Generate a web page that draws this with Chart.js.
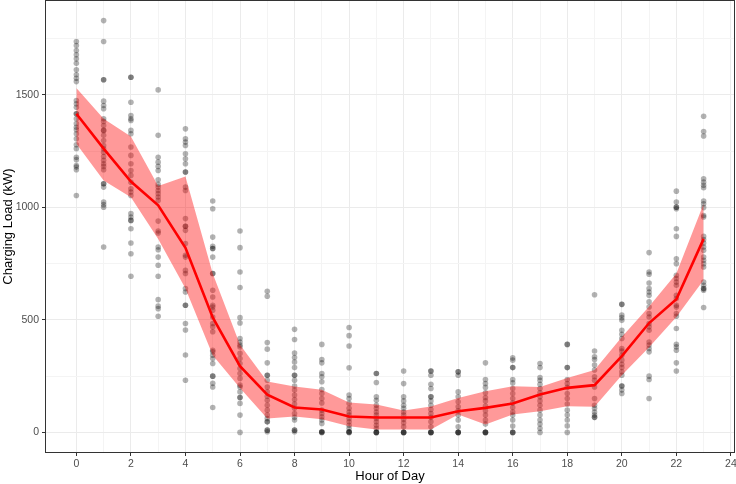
<!DOCTYPE html>
<html>
<head>
<meta charset="utf-8">
<script src="https://cdn.jsdelivr.net/npm/chart.js@4.4.1/dist/chart.umd.min.js"></script>
<style>
  html, body { margin: 0; padding: 0; background: #ffffff; }
  #wrap { width: 736px; height: 484px; }
</style>
</head>
<body>
<div id="wrap"><canvas id="c" width="736" height="484"></canvas></div>
<script>
// ---- data ----
const hours = [0,1,2,3,4,5,6,7,8,9,10,11,12,13,14,15,16,17,18,19,20,21,22,23];

const load_h00 = [1737,1719,1697,1678,1660,1640,1611,1589,1574,1559,1475,1460,1445,1416,1416,1394,1372,1356,1345,1327,1305,1278,1261,1223,1212,1186,1179,1167,1053];
const load_h01 = [1830,1737,1567,1567,1472,1453,1438,1394,1382,1364,1342,1342,1320,1297,1275,1260,1245,1226,1209,1194,1182,1167,1105,1105,1090,1024,1012,1001,824];
const load_h02 = [1578,1578,1467,1408,1394,1386,1342,1327,1268,1231,1194,1164,1142,1112,1083,1068,1053,972,957,942,942,905,842,794,694];
const load_h03 = [1522,1320,1223,1201,1182,1164,1123,1102,1090,1075,1061,1046,1031,939,895,886,824,812,779,743,694,590,561,550,516];
const load_h04 = [1349,1305,1290,1275,1238,1216,1194,1157,1157,1090,1075,950,916,916,898,839,787,779,720,706,639,624,565,565,484,455,344,232];
const load_h05 = [1028,994,868,827,817,817,779,706,706,632,602,565,557,543,513,484,469,447,365,358,343,328,306,250,250,218,202,111];
const load_h06 = [895,821,713,644,510,486,417,402,388,380,351,328,306,284,262,240,210,202,180,155,155,129,77,0];
const load_h07 = [627,605,399,370,309,254,254,232,202,180,161,143,121,99,77,62,47,47,10,10,3];
const load_h08 = [458,413,353,333,313,288,254,254,232,206,188,166,146,126,107,84,67,55,10,10,3];
const load_h09 = [391,324,309,262,247,225,191,173,151,131,99,84,69,55,40,3,3,0,0];
const load_h10 = [466,430,384,287,166,151,129,107,91,77,62,47,32,18,3,3,0,0];
const load_h11 = [262,262,222,158,143,121,107,91,77,62,47,32,18,0,0,0,0];
const load_h12 = [273,217,158,140,121,107,91,77,58,43,25,0,0,0,0];
const load_h13 = [273,273,254,214,195,158,158,140,121,102,84,67,47,25,0,0,0,0];
const load_h14 = [269,269,254,180,158,136,114,96,77,55,25,0,0,0,0];
const load_h15 = [309,235,217,200,176,155,140,117,96,77,55,37,0,0,0,0];
const load_h16 = [331,321,288,288,235,220,195,173,151,131,111,91,77,55,28,0,0,0];
const load_h17 = [306,288,244,232,214,195,176,158,140,121,99,77,55,37,18,0];
const load_h18 = [391,391,288,288,235,217,200,173,151,126,99,77,55,29,0];
const load_h19 = [612,362,336,324,299,277,247,232,202,151,121,107,91,77,67,67];
const load_h20 = [569,569,521,510,498,454,436,417,373,362,343,321,303,288,269,254,206,206,188,173];
const load_h21 = [799,713,703,664,639,624,609,580,557,528,513,484,469,454,402,388,373,358,250,235,151];
const load_h22 = [1072,1024,1001,1001,994,905,871,772,750,698,684,668,654,609,595,565,557,528,516,462,392,380,365,309,273];
const load_h23 = [1405,1337,1317,1127,1112,1098,1087,1028,1016,999,964,957,871,857,842,824,809,779,765,750,735,668,654,639,639,632,555];

const loadByHour = [load_h00,load_h01,load_h02,load_h03,load_h04,load_h05,load_h06,load_h07,
  load_h08,load_h09,load_h10,load_h11,load_h12,load_h13,load_h14,load_h15,load_h16,load_h17,
  load_h18,load_h19,load_h20,load_h21,load_h22,load_h23];

const meanLoad  = [1416,1261,1115,1009,820,511,294,168,111,102,71,66,66,66,94,109,128,168,198,210,339,486,592,860];
const lowerBand = [1283,1119,1045,860,640,343,197,62,71,58,27,13,13,13,80,35,80,94,116,114,254,378,513,677];
const upperBand = [1531,1394,1315,1095,1137,706,389,226,204,190,133,124,97,115,153,183,205,202,242,277,424,560,706,1016];

const xTickValues = [0,1,2,3,4,5,6,7,8,9,10,11,12,13,14,15,16,17,18,19,20,21,22,23,24];
const yTickValues = [0,250,500,750,1000,1250,1500,1750];

// ---- build library datasets ----
const pointData = [];
loadByHour.forEach((vals, i) => vals.forEach(v => pointData.push({x: hours[i], y: v})));
const toXY = arr => arr.map((v, i) => ({x: hours[i], y: v}));

const frame = {
  id: 'frame',
  afterDraw(chart) {
    const {ctx, chartArea: a} = chart;
    ctx.save();
    ctx.strokeStyle = '#333333';
    ctx.lineWidth = 1;
    ctx.strokeRect(a.left + 0.5, a.top + 0.5, a.right - a.left - 1, a.bottom - a.top - 1);
    ctx.restore();
  }
};

const zeroPad = s => { s.paddingTop = 0; s.paddingBottom = 0; s.paddingLeft = 0; s.paddingRight = 0; };
const gridColor = (ctx) => (ctx.tick && ctx.tick.value % 2 === 0) ? '#EBEBEB' : '#F4F4F4';
const ygridColor = (ctx) => (ctx.tick && ctx.tick.value % 500 === 0) ? '#EBEBEB' : '#F4F4F4';

new Chart(document.getElementById('c'), {
  type: 'line',
  data: {
    datasets: [
      { label: 'obs', data: pointData, showLine: false, pointRadius: 2.8, pointHoverRadius: 2.8,
        pointBackgroundColor: 'rgba(0,0,0,0.3)', pointBorderWidth: 0, borderWidth: 0, order: 3 },
      { label: 'lower', data: toXY(lowerBand), borderWidth: 0, pointRadius: 0, fill: false,
        tension: 0, order: 2, borderColor: 'rgba(0,0,0,0)' },
      { label: 'upper', data: toXY(upperBand), borderWidth: 0, pointRadius: 0, fill: '-1',
        backgroundColor: 'rgba(255,0,0,0.4)', tension: 0, order: 2, borderColor: 'rgba(0,0,0,0)' },
      { label: 'mean', data: toXY(meanLoad), borderColor: '#FF0000', borderWidth: 2.6,
        pointRadius: 0, fill: false, tension: 0, order: 1 }
    ]
  },
  options: {
    responsive: false,
    animation: false,
    devicePixelRatio: 1,
    layout: { autoPadding: false, padding: { top: 0, right: 1, left: 0, bottom: 0 } },
    plugins: { legend: { display: false }, tooltip: { enabled: false } },
    scales: {
      x: {
        type: 'linear', min: -1.15, max: 24.15,
        afterBuildTicks: s => { s.ticks = xTickValues.map(v => ({value: v})); },
        afterFit: s => { s.height = 31; zeroPad(s); },
        ticks: {
          autoSkip: false, maxRotation: 0, padding: 2, color: '#4D4D4D',
          font: { family: "'Liberation Sans', Arial, sans-serif", size: 10.5 },
          callback: v => (v % 2 === 0 ? String(v) : '')
        },
        grid: { color: gridColor, lineWidth: 1, tickLength: 3,
          tickColor: ctx => (ctx.tick && ctx.tick.value % 2 === 0) ? '#333333' : 'rgba(0,0,0,0)' },
        border: { display: false },
        title: { display: true, text: 'Hour of Day', color: '#000000',
          font: { family: "'Liberation Sans', Arial, sans-serif", size: 13 },
          padding: { top: 0, bottom: 0 } }
      },
      y: {
        type: 'linear', min: -91.5, max: 1921.5,
        afterBuildTicks: s => { s.ticks = yTickValues.map(v => ({value: v})); },
        afterFit: s => { s.width = 45; zeroPad(s); },
        ticks: {
          autoSkip: false, padding: 3, color: '#4D4D4D',
          font: { family: "'Liberation Sans', Arial, sans-serif", size: 10.5 },
          callback: v => (v % 500 === 0 ? String(v) : '')
        },
        grid: { color: ygridColor, lineWidth: 1, tickLength: 3,
          tickColor: ctx => (ctx.tick && ctx.tick.value % 500 === 0) ? '#333333' : 'rgba(0,0,0,0)' },
        border: { display: false },
        title: { display: true, text: 'Charging Load (kW)', color: '#000000',
          font: { family: "'Liberation Sans', Arial, sans-serif", size: 13 },
          padding: { top: 1, bottom: 0 } }
      }
    }
  },
  plugins: [frame]
});
</script>
</body>
</html>
